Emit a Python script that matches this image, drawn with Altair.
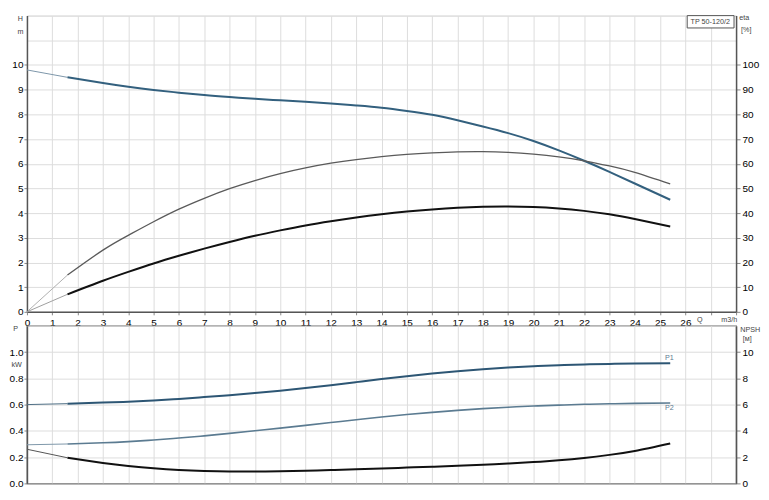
import altair as alt
import pandas as pd

# ---------------- data ----------------
# Q-H curve (m3/h, m)
q_h = [0, 1.6, 3, 4, 5, 6, 7, 8, 9, 10, 11, 12, 13, 14, 15, 16, 17, 18, 19, 20, 21, 22, 23, 24, 25.4]
h_m = [9.8, 9.5, 9.27, 9.12, 8.99, 8.88, 8.78, 8.70, 8.63, 8.57, 8.51, 8.44, 8.36, 8.27, 8.14,
       7.98, 7.76, 7.51, 7.24, 6.92, 6.54, 6.12, 5.67, 5.2, 4.54]

# efficiency curves (%)
q_eta = [0, 1.6, 3, 4, 5, 6, 7, 8, 9, 10, 11, 12, 13, 14, 15, 16, 17, 18, 19, 20, 21, 22, 23, 24, 25.4]
eta_pump = [0, 14.9, 25.0, 31.0, 36.5, 41.6, 46.0, 49.9, 53.2, 56.0, 58.3, 60.2, 61.7, 62.9, 63.8,
            64.4, 64.8, 64.9, 64.6, 63.9, 62.8, 61.2, 59.1, 56.5, 51.8]
eta_total = [0, 7.1, 12.6, 16.2, 19.6, 22.7, 25.6, 28.3, 30.8, 33.0, 35.0, 36.7, 38.2, 39.5, 40.6,
             41.5, 42.2, 42.6, 42.7, 42.5, 41.9, 40.9, 39.5, 37.6, 34.6]

# power (kW) and NPSH (m)
q_p = [0, 1.6, 3, 4, 5, 6, 7, 8, 9, 10, 11, 12, 13, 14, 15, 16, 17, 18, 19, 20, 21, 22, 23, 24, 25.4]
p1 = [0.600, 0.607, 0.615, 0.622, 0.631, 0.643, 0.657, 0.672, 0.688, 0.706, 0.726, 0.748, 0.771,
      0.794, 0.816, 0.836, 0.854, 0.869, 0.882, 0.892, 0.900, 0.906, 0.910, 0.912, 0.914]
p2 = [0.294, 0.300, 0.309, 0.318, 0.330, 0.345, 0.362, 0.381, 0.401, 0.421, 0.442, 0.463, 0.484,
      0.505, 0.524, 0.541, 0.556, 0.569, 0.580, 0.589, 0.596, 0.602, 0.606, 0.609, 0.612]
npsh = [2.6, 1.95, 1.56, 1.33, 1.15, 1.02, 0.94, 0.9, 0.9, 0.92, 0.96, 1.01, 1.07, 1.13, 1.2, 1.27,
        1.34, 1.42, 1.51, 1.62, 1.76, 1.94, 2.17, 2.47, 3.04]

Q_START = 1.6  # start of the bold (operating) part of every curve

# annotation texts
top_labels = ["H", "m", "eta", "[%]", "Q", "m3/h"]
top_label_q = [-0.26, -0.26, 28.32, 28.4, 26.57, 27.73]
top_label_v = [11.88, 11.35, 11.9, 11.43, -0.33, -0.33]
model = "TP 50-120/2"
bot_labels = ["P", "kW", "NPSH", "[м]"]
bot_label_q = [-0.45, -0.41, 28.56, 28.44]
bot_label_v = [1.177, 0.904, 1.17, 1.10]
curve_labels = ["P1", "P2"]
curve_label_q = [25.37, 25.37]
curve_label_v = [0.957, 0.577]

# ---------------- styling ----------------
FONT = "Liberation Sans"
AX = "#555555"
LAB = "#444444"
FS = 7.2
AXFS = 7
INTERP = "natural"


def part(qs, vs, lo, hi):
    return pd.DataFrame({"Q": [q for q in qs if lo <= q <= hi],
                         "v": [v for q, v in zip(qs, vs) if lo <= q <= hi]})


xscale = alt.Scale(domain=[0, 28], nice=False, zero=False)
x_top_axis = alt.Axis(values=list(range(29)), labelExpr="datum.value <= 26 ? datum.label : ''",
                      grid=True, tickSize=3, labelPadding=3, labelFlush=False, labelOverlap=False,
                      domainColor=AX, domainWidth=1.5, title=None)
x_bot_axis = alt.Axis(values=list(range(29)), labels=False, ticks=False, grid=True,
                      domainColor="#888888", domainWidth=1, title=None)

h_scale = alt.Scale(domain=[0, 12], nice=False, zero=True)
h_axis = alt.Axis(values=list(range(13)), labelExpr="datum.value <= 10 ? datum.label : ''",
                  tickOpacity={"condition": {"test": "datum.value > 10", "value": 0}, "value": 1},
                  grid=True, tickSize=3, labelPadding=1, domainColor=AX, domainWidth=1.5, title=None)
eta_scale = alt.Scale(domain=[0, 120], nice=False, zero=True)
eta_axis = alt.Axis(orient="right", values=list(range(0, 101, 10)), grid=False, tickSize=4,
                    labelPadding=2, domainColor=AX, domainWidth=1.5, title=None)

p_scale = alt.Scale(domain=[0, 1.2], nice=False, zero=True)
p_axis = alt.Axis(values=[0, 0.2, 0.4, 0.6, 0.8, 1.0, 1.2], format=".1f",
                  labelExpr="datum.value <= 1.01 ? datum.label : ''",
                  tickOpacity={"condition": {"test": "datum.value > 1.01", "value": 0}, "value": 1},
                  grid=True, tickSize=3, labelPadding=1, domainColor=AX, domainWidth=1.5, title=None)
n_scale = alt.Scale(domain=[0, 12], nice=False, zero=True)
n_axis = alt.Axis(orient="right", values=[0, 2, 4, 6, 8, 10], grid=False, tickSize=4,
                  labelPadding=2, domainColor=AX, domainWidth=1.5, title=None)


def line(qs, vs, lo, hi, color, width, xaxis, yscale, yaxis):
    return alt.Chart(part(qs, vs, lo, hi)).mark_line(
        color=color, strokeWidth=width, interpolate=INTERP
    ).encode(
        x=alt.X("Q:Q", scale=xscale, axis=xaxis),
        y=alt.Y("v:Q", scale=yscale, axis=yaxis),
    )


def texts(labels, qs, vs, xaxis, yscale, yaxis, align="center", size=FS, color=LAB):
    df = pd.DataFrame({"t": labels, "Q": qs, "v": vs})
    return alt.Chart(df).mark_text(font=FONT, fontSize=size, color=color, align=align,
                                   baseline="middle").encode(
        x=alt.X("Q:Q", scale=xscale, axis=xaxis),
        y=alt.Y("v:Q", scale=yscale, axis=yaxis),
        text="t:N",
    )


# ---------------- top panel: H and eta ----------------
box_df = pd.DataFrame({"Q": [26.07], "Q2": [27.92], "v": [11.5], "v2": [12.0]})
box = alt.Chart(box_df).mark_rect(fill="white", stroke=AX, strokeWidth=1).encode(
    x=alt.X("Q:Q", scale=xscale, axis=x_top_axis), x2="Q2:Q",
    y=alt.Y("v:Q", scale=h_scale, axis=h_axis), y2="v2:Q",
)

left = alt.layer(
    line(q_h, h_m, 0, Q_START, "#7d97aa", 1, x_top_axis, h_scale, h_axis),
    line(q_h, h_m, Q_START, 30, "#33607e", 2, x_top_axis, h_scale, h_axis),
    box,
    texts([model], [26.98], [11.74], x_top_axis, h_scale, h_axis),
    texts(top_labels, top_label_q, top_label_v, x_top_axis, h_scale, h_axis),
)
right = alt.layer(
    line(q_eta, eta_pump, 0, Q_START, "#b0b0b0", 1, x_top_axis, eta_scale, eta_axis),
    line(q_eta, eta_pump, Q_START, 30, "#5a5a5a", 1.3, x_top_axis, eta_scale, eta_axis),
    line(q_eta, eta_total, 0, Q_START, "#a0a0a0", 1, x_top_axis, eta_scale, eta_axis),
    line(q_eta, eta_total, Q_START, 30, "#111111", 2, x_top_axis, eta_scale, eta_axis),
)
top = alt.layer(left, right).resolve_scale(y="independent").properties(width=711, height=297)

# ---------------- bottom panel: P and NPSH ----------------
bl = alt.layer(
    line(q_p, p1, 0, Q_START, "#4f6f86", 1, x_bot_axis, p_scale, p_axis),
    line(q_p, p1, Q_START, 30, "#2d5674", 2, x_bot_axis, p_scale, p_axis),
    line(q_p, p2, 0, Q_START, "#7f98aa", 1, x_bot_axis, p_scale, p_axis),
    line(q_p, p2, Q_START, 30, "#5b7b91", 1.6, x_bot_axis, p_scale, p_axis),
    texts(bot_labels, bot_label_q, bot_label_v, x_bot_axis, p_scale, p_axis),
    texts(curve_labels, curve_label_q, curve_label_v, x_bot_axis, p_scale, p_axis,
          color="#5b7b91"),
)
br = alt.layer(
    line(q_p, npsh, 0, Q_START, "#555555", 1, x_bot_axis, n_scale, n_axis),
    line(q_p, npsh, Q_START, 30, "#111111", 2, x_bot_axis, n_scale, n_axis),
)
bottom = alt.layer(bl, br).resolve_scale(y="independent").properties(
    width=711, height=158, view=alt.ViewBackground(stroke=AX, strokeWidth=1.2))

chart = alt.vconcat(top, bottom, spacing=14, bounds="flush").properties(
    padding={"left": 0, "top": 4, "right": 0, "bottom": 0}
).configure_view(stroke=None).configure_axis(
    labelFont=FONT, labelFontSize=AXFS, labelColor=LAB, tickColor=AX,
    gridColor="#dcdcdc", gridWidth=1,
).configure(background="white")

chart.save("out.html", embed_options={"renderer": "svg", "actions": False})
